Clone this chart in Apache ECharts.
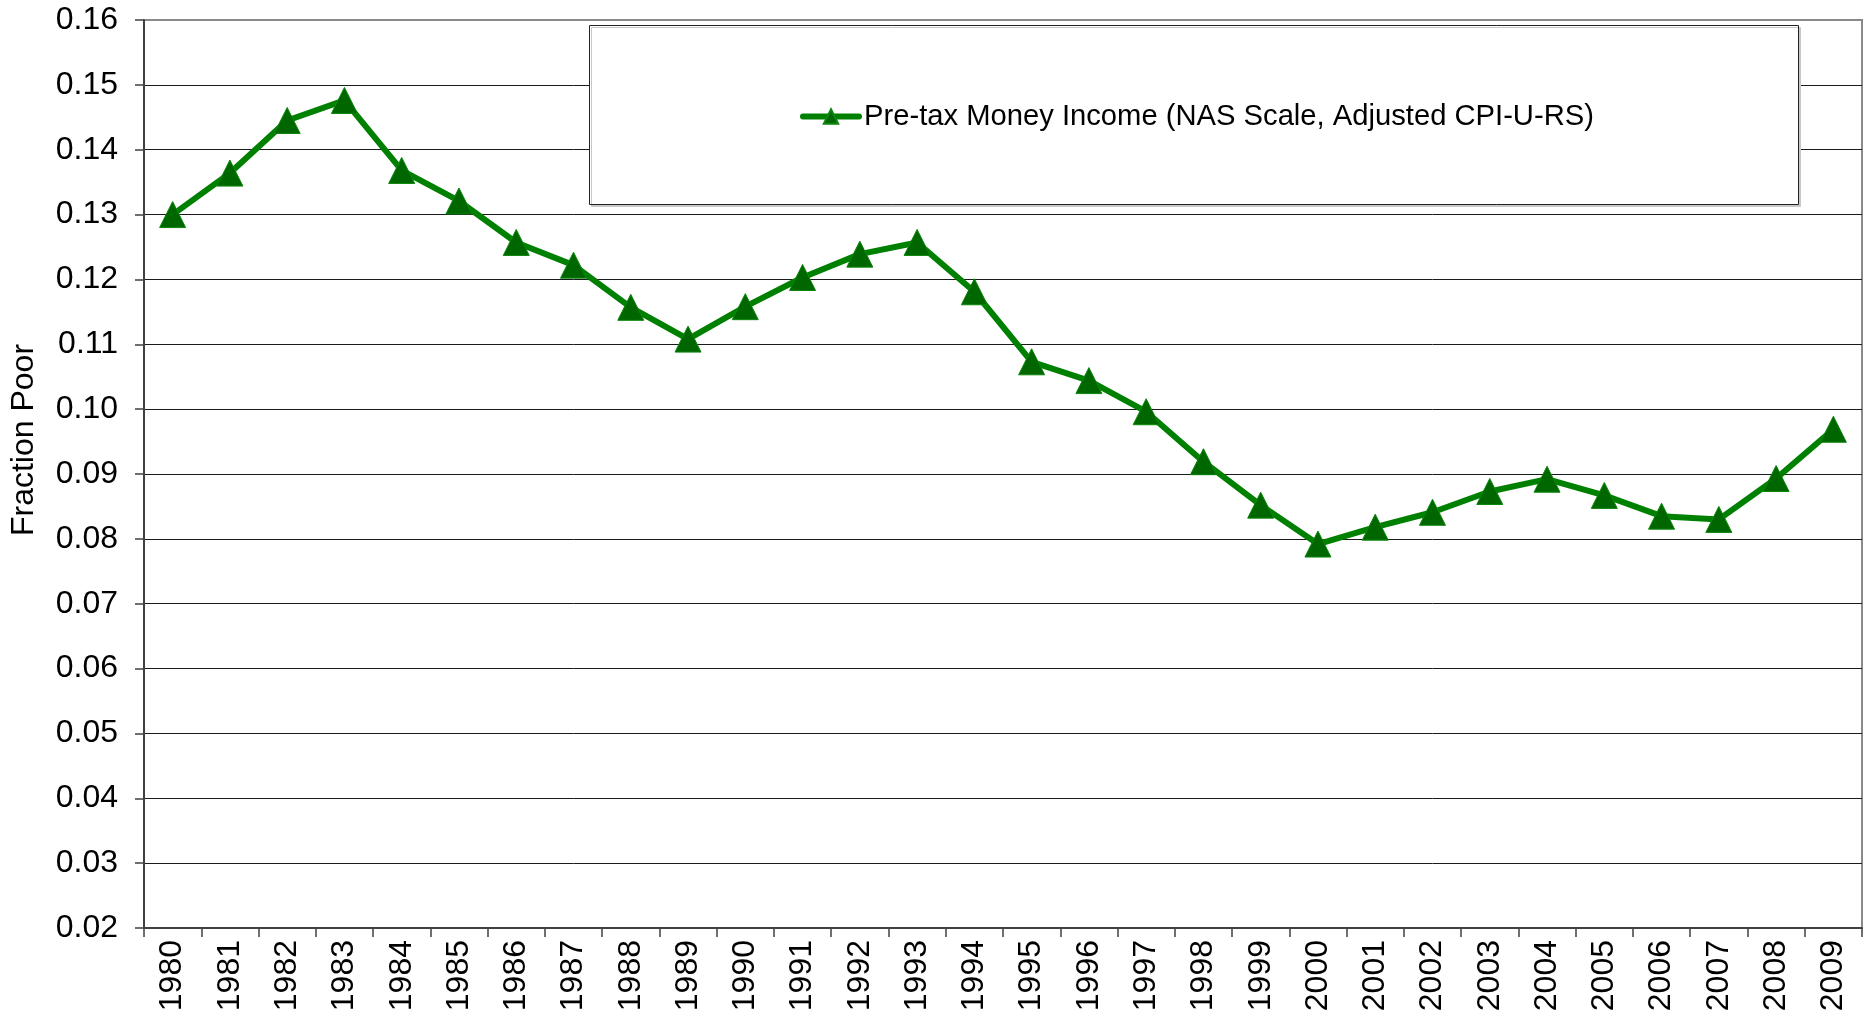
<!DOCTYPE html>
<html>
<head>
<meta charset="utf-8">
<title>Fraction Poor</title>
<script src="https://cdn.jsdelivr.net/npm/echarts@6/dist/echarts.min.js"></script>
<style>
  html, body { margin: 0; padding: 0; background: #fff; }
  #chart { width: 1868px; height: 1027px; }
</style>
</head>
<body>
<div id="chart"></div>
<script>
const years = ['1980', '1981', '1982', '1983', '1984', '1985', '1986', '1987', '1988', '1989',
  '1990', '1991', '1992', '1993', '1994', '1995', '1996', '1997', '1998', '1999',
  '2000', '2001', '2002', '2003', '2004', '2005', '2006', '2007', '2008', '2009']

const fractionPoor = [0.1300, 0.1364, 0.1445, 0.1476, 0.1368, 0.1321, 0.1257, 0.1222, 0.1157, 0.1108,
  0.1158, 0.1203, 0.1239, 0.1257, 0.1181, 0.1073, 0.1044, 0.0996, 0.0919, 0.0852,
  0.0792, 0.0818, 0.0841, 0.0873, 0.0892, 0.0867, 0.0835, 0.0830, 0.0893, 0.0969]

const seriesName = 'Pre-tax Money Income (NAS Scale, Adjusted CPI-U-RS)'
const yTitle = 'Fraction Poor'
const yMin = 0.02
const yMax = 0.16
const yStep = 0.01

const font = "'Liberation Sans', Arial, sans-serif"

const chart = echarts.init(document.getElementById('chart'), null, {renderer: 'canvas'})

chart.setOption({
  backgroundColor: '#fff',
  animation: false,
  grid: {
    left: 144,
    right: 6,
    top: 20,
    bottom: 99,
    show: true,
    borderColor: '#8a8a8a',
    borderWidth: 2
  },
  graphic: [{
    type: 'rect',
    left: 589,
    top: 25,
    z: 10,
    shape: {width: 1209, height: 179},
    style: {
      fill: '#fff',
      stroke: '#222',
      lineWidth: 1,
      shadowColor: '#c8c8c8',
      shadowOffsetX: 2,
      shadowOffsetY: 2,
      shadowBlur: 0
    }
  }],
  legend: {
    data: [seriesName],
    left: 800,
    top: 102,
    z: 20,
    padding: 0,
    itemWidth: 56,
    itemHeight: 18,
    itemGap: 4,
    lineStyle: {
      width: 6,
      cap: 'round'
    },
    textStyle: {
      fontFamily: font,
      fontSize: 29.2,
      color: '#000'
    }
  },
  xAxis: {
    type: 'category',
    data: years,
    boundaryGap: true,
    axisLine: {
      lineStyle: {color: '#404040', width: 2}
    },
    axisTick: {
      show: true,
      interval: 0,
      length: 9,
      lineStyle: {color: '#404040', width: 1.5}
    },
    axisLabel: {
      interval: 0,
      rotate: 90,
      margin: 12,
      fontFamily: font,
      fontSize: 32,
      color: '#000'
    },
    splitLine: {show: false}
  },
  yAxis: {
    type: 'value',
    min: yMin,
    max: yMax,
    interval: yStep,
    name: yTitle,
    nameLocation: 'middle',
    nameGap: 104,
    nameTextStyle: {
      fontFamily: font,
      fontSize: 32,
      color: '#000',
      padding: [0, 0, 0, 68]
    },
    axisLine: {
      show: true,
      lineStyle: {color: '#404040', width: 2}
    },
    axisTick: {
      show: true,
      length: 9,
      lineStyle: {color: '#404040', width: 1.5}
    },
    axisLabel: {
      margin: 26,
      fontFamily: font,
      fontSize: 32,
      color: '#000',
      formatter: (v) => v.toFixed(2)
    },
    splitLine: {
      show: true,
      showMaxLine: false,
      lineStyle: {color: '#1a1a1a', width: 1}
    }
  },
  series: [{
    name: seriesName,
    type: 'line',
    data: fractionPoor,
    symbol: 'triangle',
    symbolSize: 26,
    z: 30,
    lineStyle: {
      color: '#008000',
      width: 6
    },
    itemStyle: {
      color: '#006600',
      borderColor: '#0a870a',
      borderWidth: 1
    }
  }]
})
</script>
</body>
</html>
